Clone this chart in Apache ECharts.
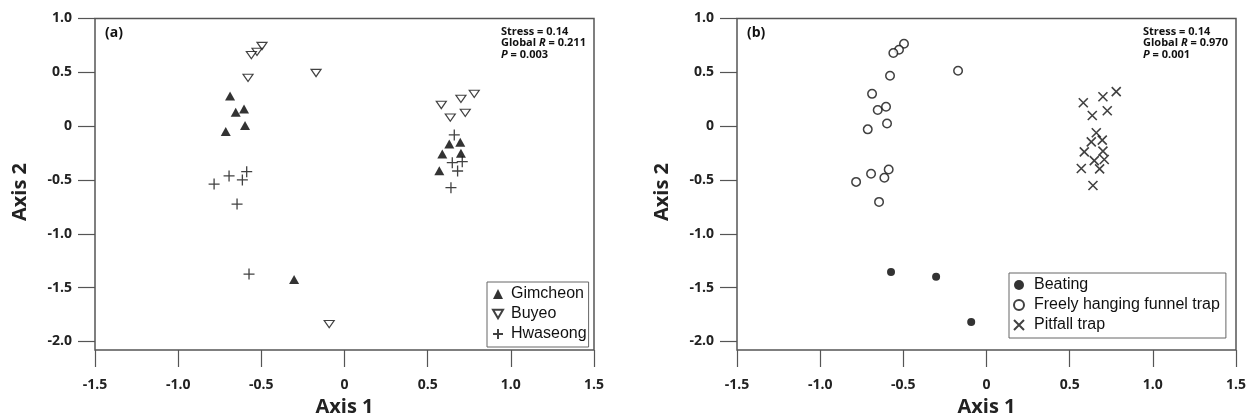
<!DOCTYPE html>
<html>
<head>
<meta charset="utf-8">
<script src="https://cdn.jsdelivr.net/npm/echarts@6.0.0/dist/echarts.min.js"></script>
<style>
    html, body { margin: 0; padding: 0; background: #fff; }
    #main { width: 1252px; height: 418px; }
</style>
</head>
<body>
<div id="main"></div>
<script>
// 刻度
var xTicks = [-1.5, -1.0, -0.5, 0, 0.5, 1.0, 1.5];
var yTicks = [-2.0, -1.5, -1.0, -0.5, 0, 0.5, 1.0];

// (a) 采样地点
var gimcheon = [[-0.688, 0.28], [-0.654, 0.13], [-0.604, 0.16], [-0.598, 0.005], [-0.714, -0.05],
    [0.63, -0.166], [0.696, -0.15], [0.588, -0.259], [0.70, -0.252], [0.57, -0.414], [-0.303, -1.424]];
var buyeo = [[-0.496, 0.745], [-0.526, 0.69], [-0.56, 0.66], [-0.58, 0.448], [-0.171, 0.494],
    [0.582, 0.197], [0.70, 0.253], [0.78, 0.30], [0.636, 0.079], [0.726, 0.123], [-0.092, -1.84]];
var hwaseong = [[-0.784, -0.538], [-0.694, -0.463], [-0.614, -0.50], [-0.588, -0.423], [-0.646, -0.724],
    [0.66, -0.082], [0.648, -0.34], [0.708, -0.33], [0.68, -0.417], [0.64, -0.572], [-0.574, -1.375]];

// (b) 采集方法
var beating = [[-0.574, -1.355], [-0.303, -1.40], [-0.092, -1.82]];
var funnel = [[-0.688, 0.30], [-0.654, 0.15], [-0.604, 0.18], [-0.598, 0.025], [-0.714, -0.03],
    [-0.496, 0.765], [-0.526, 0.71], [-0.56, 0.68], [-0.58, 0.468], [-0.171, 0.514],
    [-0.784, -0.518], [-0.694, -0.443], [-0.614, -0.48], [-0.588, -0.403], [-0.646, -0.704]];
var pitfall = [[0.63, -0.146], [0.696, -0.13], [0.588, -0.239], [0.70, -0.232], [0.57, -0.394],
    [0.582, 0.217], [0.70, 0.273], [0.78, 0.32], [0.636, 0.099], [0.726, 0.143],
    [0.66, -0.062], [0.648, -0.32], [0.708, -0.31], [0.68, -0.397], [0.64, -0.552]];

var labelFont = '"Open Sans", "Noto Sans", sans-serif';
var legendFont = '"Liberation Sans", Arial, sans-serif';

function fmt(v) {
    return v === 0 ? '0' : v.toFixed(1);
}

function makeX(gi) {
    return {
        gridIndex: gi, type: 'value', min: -1.5, max: 1.5, interval: 0.5,
        axisLine: { show: false, onZero: false },
        axisTick: { show: true, length: 17, lineStyle: { color: '#555', width: 1.2 } },
        axisLabel: { margin: 28, fontFamily: labelFont, fontWeight: 'bold', fontSize: 14, color: '#222',
            formatter: fmt, showMinLabel: true, showMaxLabel: true },
        splitLine: { show: false },
        name: 'Axis 1', nameLocation: 'middle', nameGap: 47,
        nameTextStyle: { fontFamily: labelFont, fontWeight: 'bold', fontSize: 20, color: '#222' }
    };
}

function makeY(gi) {
    return {
        gridIndex: gi, type: 'value', min: -2.08, max: 1.0,
        axisLine: { show: false, onZero: false },
        axisTick: { show: true, length: 17, customValues: yTicks, lineStyle: { color: '#555', width: 1.2 } },
        axisLabel: { margin: 23, customValues: yTicks, fontFamily: labelFont, fontWeight: 'bold', fontSize: 14,
            color: '#222', formatter: fmt },
        splitLine: { show: false }
    };
}

var stats = function (r, p) {
    return '{b|Stress = 0.14}\n{b|Global }{i|R}{b| = ' + r + '}\n{i|P}{b| = ' + p + '}';
};
var statsRich = {
    b: { fontFamily: labelFont, fontWeight: 'bold', fontSize: 11, fill: '#111', lineHeight: 11.5 },
    i: { fontFamily: labelFont, fontWeight: 'bold', fontStyle: 'italic', fontSize: 11, fill: '#111', lineHeight: 11.5 }
};

var legendBase = {
    orient: 'vertical', itemGap: 4, itemWidth: 10, itemHeight: 10, selectedMode: false,
    borderColor: '#666', borderWidth: 1, backgroundColor: '#fff',
    textStyle: { fontFamily: legendFont, fontSize: 16, color: '#111', lineHeight: 16 }
};

// 倒三角
var downTriangle = 'path://M0,0L10,0L5,8.5Z';

var myChart = echarts.init(document.getElementById('main'));

var option = {
    animation: false,
    grid: [
        { left: 95, top: 18.5, width: 499, height: 331.5, show: true, borderColor: '#555', borderWidth: 1.5,
            outerBoundsMode: 'none', containLabel: false },
        { left: 737, top: 18.5, width: 499, height: 331.5, show: true, borderColor: '#555', borderWidth: 1.5,
            outerBoundsMode: 'none', containLabel: false }
    ],
    xAxis: [makeX(0), makeX(1)],
    yAxis: [makeY(0), makeY(1)],
    legend: [
        Object.assign({}, legendBase, { data: ['Gimcheon', 'Buyeo', 'Hwaseong'], left: 487, top: 282,
            padding: [4, 2, 5, 5], textStyle: Object.assign({}, legendBase.textStyle, { padding: [0, 0, 0, 3] }) }),
        Object.assign({}, legendBase, { data: ['Beating', 'Freely hanging funnel trap', 'Pitfall trap'],
            left: 1009, top: 273, padding: [4, 6, 5, 4], textStyle: Object.assign({}, legendBase.textStyle, { padding: [0, 0, 0, 5] }) })
    ],
    graphic: [
        { type: 'text', left: 105, top: 26, style: { text: '(a)', font: 'bold 14px ' + labelFont, fill: '#111' } },
        { type: 'text', left: 747, top: 26, style: { text: '(b)', font: 'bold 14px ' + labelFont, fill: '#111' } },
        { type: 'text', left: 501, top: 26, style: { text: stats('0.211', '0.003'), rich: statsRich } },
        { type: 'text', left: 1143, top: 26, style: { text: stats('0.970', '0.001'), rich: statsRich } },
        { type: 'text', x: 20, y: 192, rotation: Math.PI / 2,
            style: { text: 'Axis 2', font: 'bold 20px ' + labelFont, fill: '#222', align: 'center', verticalAlign: 'middle' } },
        { type: 'text', x: 662, y: 192, rotation: Math.PI / 2,
            style: { text: 'Axis 2', font: 'bold 20px ' + labelFont, fill: '#222', align: 'center', verticalAlign: 'middle' } }
    ],
    series: [
        { name: 'Gimcheon', type: 'scatter', xAxisIndex: 0, yAxisIndex: 0, data: gimcheon,
            symbol: 'triangle', symbolSize: [10, 9], itemStyle: { color: '#000' } },
        { name: 'Buyeo', type: 'scatter', xAxisIndex: 0, yAxisIndex: 0, data: buyeo,
            symbol: downTriangle, symbolSize: [10, 8.5], symbolKeepAspect: true,
            itemStyle: { color: '#fff', borderColor: '#111', borderWidth: 1.2 } },
        { name: 'Hwaseong', type: 'scatter', xAxisIndex: 0, yAxisIndex: 0, data: hwaseong,
            symbol: 'path://M0,5L10,5M5,0L5,10', symbolSize: 11,
            itemStyle: { color: 'transparent', borderColor: '#111', borderWidth: 1.3 } },
        { name: 'Beating', type: 'scatter', xAxisIndex: 1, yAxisIndex: 1, data: beating,
            symbol: 'circle', symbolSize: 8, itemStyle: { color: '#000' } },
        { name: 'Freely hanging funnel trap', type: 'scatter', xAxisIndex: 1, yAxisIndex: 1, data: funnel,
            symbol: 'circle', symbolSize: 8.5, itemStyle: { color: '#fff', borderColor: '#111', borderWidth: 1.5 } },
        { name: 'Pitfall trap', type: 'scatter', xAxisIndex: 1, yAxisIndex: 1, data: pitfall,
            symbol: 'path://M0,0L10,10M10,0L0,10', symbolSize: 9,
            itemStyle: { color: 'transparent', borderColor: '#111', borderWidth: 1.6 } }
    ]
};

myChart.setOption(option);
</script>
</body>
</html>
